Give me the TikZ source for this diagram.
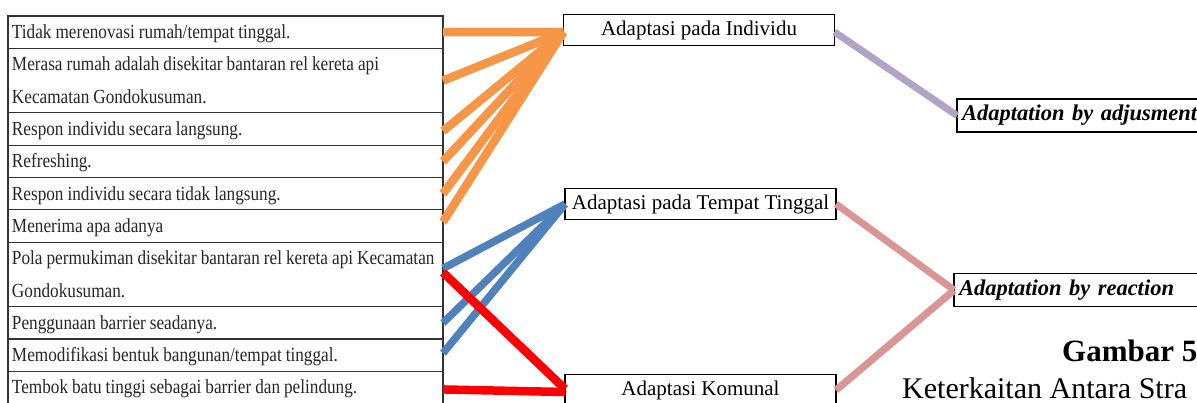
\documentclass[tikz,border=0pt]{standalone}
\usepackage{fontspec}
\setmainfont{Liberation Serif}
\newfontfamily\tabfont{Liberation Serif}[FakeStretch=0.86]
\definecolor{corange}{HTML}{F79646}
\definecolor{cblue}{HTML}{4F81BD}
\definecolor{cred}{HTML}{FF0000}
\definecolor{cpurple}{HTML}{B3A2C7}
\definecolor{cpink}{HTML}{D99694}
\definecolor{cshadow}{HTML}{A6A6A6}
\tikzset{
  tabrow/.style={draw=black!80, line width=1.1pt, anchor=north west, outer sep=0pt,
    text width=427pt, inner xsep=4pt, inner ysep=0pt, align=left,
    font=\tabfont\fontsize{20}{32.3}\selectfont, text=black!85,
    execute at begin node={\spaceskip=4pt\relax}},
  adbox/.style={draw=black, line width=1.2pt, minimum width=271pt, outer sep=0pt,
    minimum height=31pt, inner sep=0pt, font=\fontsize{21}{24}\selectfont},
  resbox/.style={draw=black, line width=1.2pt, anchor=west, minimum height=33pt, outer sep=0pt,
    text width=250pt, inner xsep=5pt, inner ysep=0pt, align=left,
    font=\bfseries\itshape\fontsize{22.5}{26}\selectfont},
  link/.style={line width=#1, preaction={draw=cshadow, transform canvas={shift={(2pt,-3pt)}}}},
  link/.default=8.5pt
}
\begin{document}
\begin{tikzpicture}[x=1pt,y=-1pt]
\useasboundingbox (0,0) rectangle (1197,403);
\clip (0,0) rectangle (1197,403);
% table rows
\node[tabrow] (r1) at (8,16) {\strut\mbox{Tidak merenovasi rumah/tempat tinggal.}};
\node[tabrow] (r2) at (r1.south west) {\strut\mbox{Merasa rumah adalah disekitar bantaran rel kereta api}\\\strut\mbox{Kecamatan Gondokusuman.}};
\node[tabrow] (r3) at (r2.south west) {\strut\mbox{Respon individu secara langsung.}};
\node[tabrow] (r4) at (r3.south west) {\strut\mbox{Refreshing.}};
\node[tabrow] (r5) at (r4.south west) {\strut\mbox{Respon individu secara tidak langsung.}};
\node[tabrow] (r6) at (r5.south west) {\strut\mbox{Menerima apa adanya}};
\node[tabrow] (r7) at (r6.south west) {\strut\mbox{Pola permukiman disekitar bantaran rel kereta api Kecamatan}\\\strut\mbox{Gondokusuman.}};
\node[tabrow] (r8) at (r7.south west) {\strut\mbox{Penggunaan barrier seadanya.}};
\node[tabrow] (r9) at (r8.south west) {\strut\mbox{Memodifikasi bentuk bangunan/tempat tinggal.}};
\node[tabrow] (r10) at (r9.south west) {\strut\mbox{Tembok batu tinggi sebagai barrier dan pelindung.}};
% middle boxes
\node[adbox] (b1) at (699,30) {Adaptasi pada Individu};
\node[adbox] (b2) at (700.5,204) {Adaptasi pada Tempat Tinggal};
\node[adbox] (b3) at (700.5,390) {Adaptasi Komunal};
% right boxes
\node[resbox] (adj) at (957,115.5) {Adaptation by adjusment};
\node[resbox] (rea) at (954,290) {Adaptation by reaction};
% caption
\node[anchor=base west, inner sep=0pt, font=\bfseries\fontsize{31}{36}\selectfont] (cap1) at (1062,362) {Gambar 5};
\node[anchor=base west, inner sep=0pt, font=\fontsize{30}{36}\selectfont] (cap2) at (902,398) {Keterkaitan Antara Stra};
% orange connectors
\coordinate (o) at ([yshift=-2pt]b1.west);
\draw[link, corange] (r1.east) -- (o);
\draw[link, corange] (r2.east) -- (o);
\draw[link, corange] ([yshift=-2pt]r3.east) -- (o);
\draw[link, corange] (r4.east) -- (o);
\draw[link, corange] (r5.east) -- (o);
\draw[link, corange] ([yshift=4pt]r6.east) -- (o);
% blue connectors
\draw[link=7.5pt, cblue] ([yshift=6pt]r7.east) -- (b2.west);
\draw[link=7.5pt, cblue] (r8.east) -- (b2.west);
\draw[link=7.5pt, cblue] ([yshift=2pt]r9.east) -- (b2.west);
% red connectors
\draw[link=8.5pt, cred] ([yshift=2pt]r7.east) -- ([yshift=1pt]b3.west);
\draw[link=8.5pt, cred] ([yshift=-2pt]r10.east) -- ([yshift=-2pt]b3.west);
% right connectors
\draw[link=7pt, cpurple] ([yshift=-2pt]b1.east) -- (adj.west);
\draw[link=7pt, cpink] (b2.east) -- (rea.west);
\draw[link=7pt, cpink] (b3.east) -- (rea.west);
\end{tikzpicture}
\end{document}
